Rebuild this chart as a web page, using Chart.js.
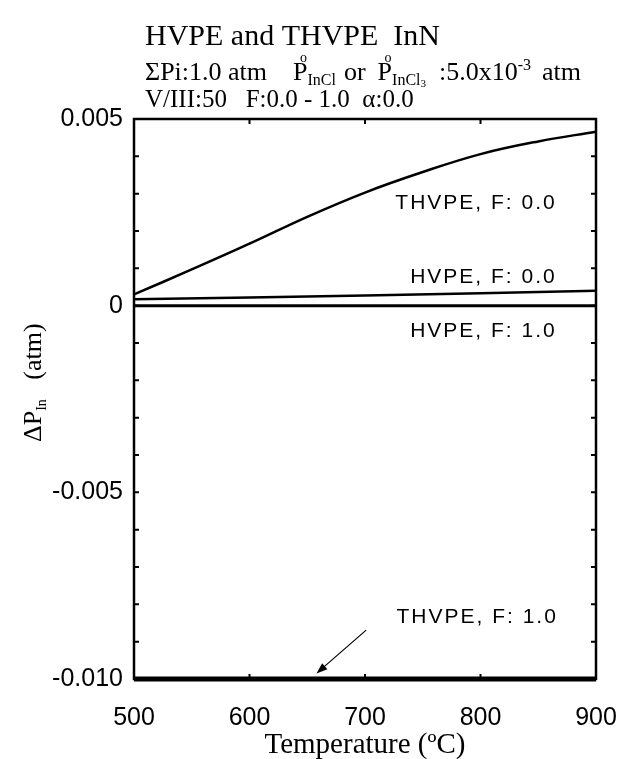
<!DOCTYPE html>
<html>
<head>
<meta charset="utf-8">
<script src="https://cdn.jsdelivr.net/npm/chart.js@4/dist/chart.umd.min.js"></script>
<style>
  html, body { margin: 0; padding: 0; background: #fff; }
  #wrap { width: 623px; height: 759px; position: relative; }
</style>
</head>
<body>
<div id="wrap"><canvas id="c"></canvas></div>
<script>
// Temperatures (°C) and ΔP_In (atm) for each growth mode
const thvpeF0Temps = [500, 550, 600, 650, 700, 750, 800, 850, 900];
const thvpeF0 = [0.00030, 0.00097, 0.00166, 0.00238, 0.00303, 0.00358, 0.00406, 0.00440, 0.00466];
const hvpeF0Temps = [500, 700, 900];
const hvpeF0 = [0.00017, 0.00027, 0.00040];
const hvpeF1Temps = [500, 900];
const hvpeF1 = [0, 0];
const thvpeF1Temps = [500, 900];
const thvpeF1 = [-0.010, -0.010];

// Axis ticks
const xTickValues = [500, 600, 700, 800, 900];
const yTickValues = [0.005, 0, -0.005, -0.010];
const yTickLabels = ['0.005', '0', '-0.005', '-0.010'];

// Curve labels: text, right edge temperature, baseline value
const curveLabels = [
  { text: 'THVPE, F: 0.0', t: 866, v: 0.00258 },
  { text: 'HVPE, F: 0.0',  t: 866, v: 0.00060 },
  { text: 'HVPE, F: 1.0',  t: 866, v: -0.00085 },
  { text: 'THVPE, F: 1.0', t: 867, v: -0.00849 }
];
// Arrow pointing at the THVPE, F: 1.0 curve
const arrowFrom = { t: 701, v: -0.00869 };
const arrowTo = { t: 658, v: -0.00985 };

const pts = (xs, ys) => xs.map((x, i) => ({ x: x, y: ys[i] }));

const SERIF = '"Liberation Serif", "Times New Roman", serif';
const SANS = '"Liberation Sans", Arial, sans-serif';

const decorations = {
  id: 'decorations',
  afterDatasetsDraw(chart) {
    const ctx = chart.ctx;
    const xs = chart.scales.x, ys = chart.scales.y;
    const a = chart.chartArea;
    ctx.save();
    ctx.strokeStyle = '#000';
    ctx.fillStyle = '#000';

    // frame
    ctx.lineWidth = 2.5;
    ctx.strokeRect(a.left, a.top, a.right - a.left, a.bottom - a.top);

    // inward ticks
    ctx.lineWidth = 2;
    const tl = 5;
    for (let k = -10; k <= 5; k++) {
      const y = ys.getPixelForValue(k / 1000);
      ctx.beginPath();
      ctx.moveTo(a.left, y); ctx.lineTo(a.left + tl, y);
      ctx.moveTo(a.right, y); ctx.lineTo(a.right - tl, y);
      ctx.stroke();
    }
    xTickValues.forEach(t => {
      const x = xs.getPixelForValue(t);
      ctx.beginPath();
      ctx.moveTo(x, a.top); ctx.lineTo(x, a.top + tl);
      ctx.moveTo(x, a.bottom); ctx.lineTo(x, a.bottom - tl);
      ctx.stroke();
    });

    // curve labels
    ctx.font = '21px ' + SANS;
    ctx.letterSpacing = '2px';
    ctx.textAlign = 'right';
    ctx.textBaseline = 'alphabetic';
    curveLabels.forEach(l => {
      ctx.fillText(l.text, xs.getPixelForValue(l.t), ys.getPixelForValue(l.v));
    });
    ctx.letterSpacing = '0px';

    // arrow
    const x1 = xs.getPixelForValue(arrowFrom.t), y1 = ys.getPixelForValue(arrowFrom.v);
    const x2 = xs.getPixelForValue(arrowTo.t), y2 = ys.getPixelForValue(arrowTo.v);
    const ang = Math.atan2(y2 - y1, x2 - x1);
    ctx.lineWidth = 1.2;
    ctx.beginPath();
    ctx.moveTo(x1, y1);
    ctx.lineTo(x2 - 8 * Math.cos(ang), y2 - 8 * Math.sin(ang));
    ctx.stroke();
    ctx.beginPath();
    ctx.moveTo(x2, y2);
    ctx.lineTo(x2 - 11 * Math.cos(ang) + 4 * Math.sin(ang), y2 - 11 * Math.sin(ang) - 4 * Math.cos(ang));
    ctx.lineTo(x2 - 11 * Math.cos(ang) - 4 * Math.sin(ang), y2 - 11 * Math.sin(ang) + 4 * Math.cos(ang));
    ctx.closePath();
    ctx.fill();

    // heading
    ctx.textAlign = 'left';
    ctx.font = '30px ' + SERIF;
    ctx.fillText('HVPE and THVPE  InN', 145, 45);

    // second heading line with sub/superscripts
    let x = 145;
    const base = 80;
    const put = (s, size, dy) => {
      ctx.font = size + 'px ' + SERIF;
      ctx.fillText(s, x, base + dy);
      x += ctx.measureText(s).width;
    };
    const gap = g => { x += g; };
    const pWithSub = (sub, sub2) => {
      const px = x;
      put('P', 26, 0);
      ctx.font = '14px ' + SERIF;
      ctx.fillText('o', px + 7, base - 18);
      put(sub, 16, 5);
      if (sub2) put(sub2, 11, 7);
    };
    put('ΣPi:1.0 atm', 26, 0);
    gap(26);
    pWithSub('InCl');
    gap(8);
    put('or', 26, 0);
    gap(12);
    pWithSub('InCl', '3');
    gap(13);
    put(':5.0x10', 26, 0);
    put('-3', 16, -10);
    gap(11);
    put('atm', 26, 0);

    ctx.font = '25px ' + SERIF;
    ctx.fillText('V/III:50   F:0.0 - 1.0  α:0.0', 145, 107);

    // x axis title
    ctx.textAlign = 'center';
    ctx.font = '29px ' + SERIF;
    ctx.fillText('Temperature (ºC)', (a.left + a.right) / 2, 753);

    // y axis title (rotated)
    ctx.save();
    ctx.translate(41, 442);
    ctx.rotate(-Math.PI / 2);
    ctx.textAlign = 'left';
    let yx = 0;
    ctx.font = '26px ' + SERIF;
    ctx.fillText('ΔP', yx, 0);
    yx += ctx.measureText('ΔP').width;
    ctx.font = '14px ' + SERIF;
    ctx.fillText('In', yx, 5);
    yx += ctx.measureText('In').width;
    ctx.font = '26px ' + SERIF;
    ctx.fillText('   (atm)', yx, 0);
    ctx.restore();

    ctx.restore();
  }
};

new Chart(document.getElementById('c'), {
  type: 'line',
  data: {
    datasets: [
      { label: 'THVPE, F: 0.0', data: pts(thvpeF0Temps, thvpeF0), borderWidth: 2.5, tension: 0.4 },
      { label: 'HVPE, F: 0.0', data: pts(hvpeF0Temps, hvpeF0), borderWidth: 2.5, tension: 0.4 },
      { label: 'HVPE, F: 1.0', data: pts(hvpeF1Temps, hvpeF1), borderWidth: 3 },
      { label: 'THVPE, F: 1.0', data: pts(thvpeF1Temps, thvpeF1), borderWidth: 5 }
    ].map(d => Object.assign({ borderColor: '#000', pointRadius: 0, fill: false, clip: false }, d))
  },
  options: {
    responsive: true,
    maintainAspectRatio: false,
    animation: false,
    events: [],
    layout: { padding: { top: 119, right: 27, left: 0, bottom: 0 } },
    plugins: { legend: { display: false }, tooltip: { enabled: false }, title: { display: false } },
    scales: {
      x: {
        type: 'linear', min: 500, max: 900,
        border: { display: false },
        grid: { display: false, drawTicks: false },
        afterBuildTicks: s => { s.ticks = xTickValues.map(v => ({ value: v })); },
        afterFit: s => { s.height = 80; s.paddingLeft = 0; s.paddingRight = 0; },
        ticks: { color: '#000', padding: 24, maxRotation: 0, font: { family: SANS, size: 25 }, callback: v => String(v) }
      },
      y: {
        type: 'linear', min: -0.010, max: 0.005,
        border: { display: false },
        grid: { display: false, drawTicks: false },
        afterBuildTicks: s => { s.ticks = yTickValues.map(v => ({ value: v })); },
        afterFit: s => { s.width = 134; s.paddingTop = 0; s.paddingBottom = 0; },
        ticks: {
          color: '#000', padding: 11, font: { family: SANS, size: 25 },
          callback: v => { const i = yTickValues.findIndex(t => Math.abs(t - v) < 1e-9); return i >= 0 ? yTickLabels[i] : ''; }
        }
      }
    }
  },
  plugins: [decorations]
});
</script>
</body>
</html>
